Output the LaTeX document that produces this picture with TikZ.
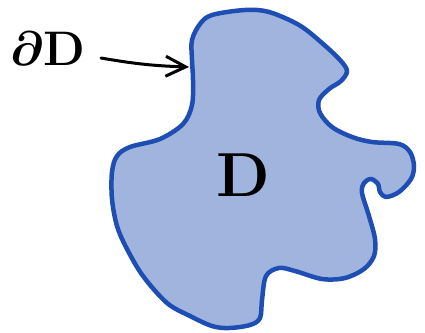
\documentclass[tikz,border=0pt]{standalone}
\usepackage{tikz}
\usepackage{graphicx}
\usetikzlibrary{arrows.meta}

\definecolor{regionfill}{RGB}{160,180,222}
\definecolor{regionline}{RGB}{30,78,180}

\begin{document}
\begin{tikzpicture}[x=1pt, y=-1pt,
    region/.style={draw=regionline, fill=regionfill, line width=4.5pt,
                   line join=round},
    lbl/.style={inner sep=0pt, font=\Huge\boldmath},
    pointer/.style={-{Straight Barb[length=20pt, width=20pt, line width=3pt]},
                    line width=3pt, line cap=round},
  ]
  \useasboundingbox (0,0) rectangle (425,332);

  % the region D
  \draw[region] plot[smooth cycle, tension=0.55] coordinates {
    (192,40) (200,24) (212,15) (245,10) (269,12) (299,25) (322,43)
    (340,60) (347,71) (341,81) (329,89) (319,100) (320,113) (332,127) (352,137)
    (372,142) (399,144) (410,152) (414,166) (411,179) (399,192)
    (386,197) (380,192) (378,184) (371,179) (364,183) (362,193)
    (369,216) (375,239) (374,256) (364,269) (345,278) (322,279)
    (295,271) (279,268) (266,276) (262,300) (260,318) (250,325)
    (229,328) (212,326) (190,316) (167,303) (143,276) (127,249)
    (117,226) (112,199) (112,172) (117,156) (130,147) (160,139)
    (183,124) (192,105) (193,80) (192,60)
  };

  \node[lbl] (D) at (243,175) {\scalebox{2.5}{$\mathbf{D}$}};
  \node[lbl] (dD) at (48,49) {\scalebox{1.95}{$\partial\mathbf{D}$}};

  \coordinate (tail) at (101,58);
  \coordinate (tip) at (189,67);
  \draw[pointer] (tail) to[bend right=4] (tip);
\end{tikzpicture}
\end{document}
